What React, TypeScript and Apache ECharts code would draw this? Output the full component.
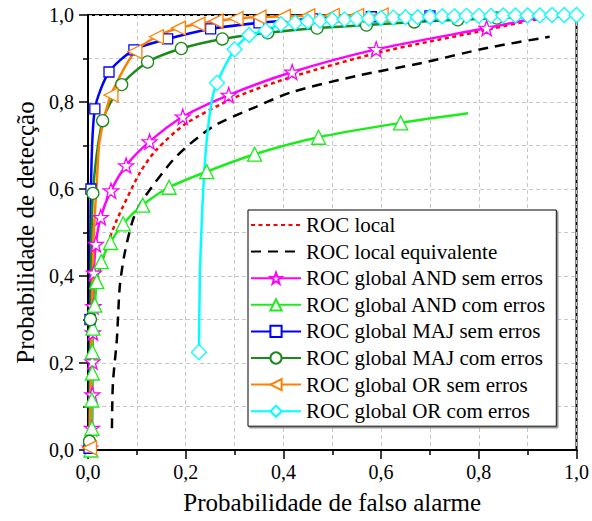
import React, { useEffect, useRef } from "react";
import * as echarts from "echarts";

// Legend names
const names = [
  "ROC local",
  "ROC local equivalente",
  "ROC global AND sem erros",
  "ROC global AND com erros",
  "ROC global MAJ sem erros",
  "ROC global MAJ com erros",
  "ROC global OR sem erros",
  "ROC global OR com erros",
];

// [Pfa, Pd] points
const rocLocal = [
  [0.006, 0.15], [0.008, 0.22], [0.011, 0.3], [0.015, 0.36], [0.024, 0.414], [0.041, 0.476],
  [0.059, 0.529], [0.106, 0.637], [0.14, 0.69], [0.2, 0.75], [0.3, 0.81], [0.418, 0.858],
  [0.6, 0.915], [0.8, 0.962], [0.92, 0.99], [1.0, 1.0],
];
const rocLocalEquiv = [
  [0.049, 0.05], [0.051, 0.154], [0.059, 0.253], [0.065, 0.375], [0.075, 0.452], [0.092, 0.529],
  [0.112, 0.575], [0.18, 0.674], [0.255, 0.743], [0.344, 0.789], [0.418, 0.823], [0.55, 0.86],
  [0.684, 0.89], [0.82, 0.925], [0.945, 0.95],
];
const andSem = [
  [0.004, 0.005], [0.008, 0.05], [0.009, 0.127], [0.009, 0.203], [0.01, 0.27], [0.011, 0.33],
  [0.012, 0.407], [0.016, 0.473], [0.026, 0.535], [0.047, 0.596], [0.078, 0.654], [0.126, 0.709],
  [0.194, 0.766], [0.288, 0.816], [0.418, 0.869], [0.59, 0.921], [0.816, 0.97],
];
const andSemTail = [[0.93, 0.995], [1.0, 1.0]];
const andCom = [
  [0.006, 0.0], [0.008, 0.05], [0.008, 0.115], [0.009, 0.177], [0.009, 0.226], [0.01, 0.28],
  [0.014, 0.333], [0.018, 0.387], [0.027, 0.433], [0.046, 0.477], [0.072, 0.52], [0.112, 0.563],
  [0.166, 0.604], [0.243, 0.64], [0.341, 0.68], [0.472, 0.719], [0.64, 0.752],
];
const andComTail = [[0.778, 0.774]];
const majSem = [
  [0.002, 0.004], [0.004, 0.3], [0.006, 0.6], [0.014, 0.784], [0.043, 0.869], [0.094, 0.92],
  [0.163, 0.945], [0.251, 0.968], [0.35, 0.982], [0.46, 0.991], [0.58, 0.996], [0.7, 0.998],
];
const majSemTail = [[1.0, 1.0]];
const majCom = [
  [0.003, 0.02], [0.005, 0.3], [0.01, 0.59], [0.03, 0.757], [0.069, 0.84], [0.122, 0.892],
  [0.191, 0.923], [0.275, 0.945], [0.368, 0.959], [0.469, 0.97], [0.57, 0.977], [0.668, 0.984],
  [0.757, 0.989], [0.837, 0.993],
];
const majComTail = [[1.0, 1.0]];
const orHead = [[0.008, 0.3], [0.012, 0.5], [0.018, 0.614], [0.024, 0.713]];
const orSem = [
  [0.003, 0.005], [0.047, 0.816], [0.096, 0.916], [0.14, 0.95], [0.185, 0.97], [0.225, 0.979],
  [0.262, 0.986], [0.303, 0.992], [0.35, 0.995], [0.4, 0.997], [0.45, 0.998], [0.5, 0.999],
  [0.55, 0.999], [0.6, 1.0],
];
const orSemTail = [[1.0, 1.0]];
const orComHead = [[0.229, 0.4], [0.232, 0.5], [0.236, 0.6], [0.242, 0.7], [0.253, 0.8]];
const orCom = [
  [0.227, 0.225], [0.264, 0.844], [0.3, 0.921], [0.33, 0.954], [0.364, 0.964], [0.395, 0.979],
  [0.424, 0.982], [0.45, 0.985], [0.475, 0.987], [0.5, 0.989], [0.525, 0.99], [0.55, 0.991],
  [0.575, 0.992], [0.6, 0.993], [0.625, 0.994], [0.65, 0.995], [0.675, 0.995], [0.7, 0.996],
  [0.725, 0.997], [0.75, 0.997], [0.775, 0.998], [0.8, 0.998], [0.825, 0.998], [0.85, 0.999],
  [0.875, 0.999], [0.9, 0.999], [0.925, 0.999], [0.95, 1.0], [0.975, 1.0], [1.0, 1.0],
];

const STAR =
  "path://M0,-10 L2.35,-3.24 L9.51,-3.09 L3.8,1.24 L5.88,8.09 L0,4 L-5.88,8.09 L-3.8,1.24 L-9.51,-3.09 L-2.35,-3.24 Z";

const FONT = "Liberation Serif";

function build(markers: number[][], head: number[][] = [], tail: number[][] = []) {
  const all: any[] = [];
  head.forEach((p) => all.push({ value: p, symbol: "none" }));
  markers.forEach((p) => all.push({ value: p }));
  tail.forEach((p) => all.push({ value: p, symbol: "none" }));
  all.sort((a, b) => a.value[1] - b.value[1] || a.value[0] - b.value[0]);
  return all;
}

export default function App() {
  const ref = useRef<HTMLDivElement>(null);
  useEffect(() => {
    const chart = echarts.init(ref.current!, null, { renderer: "svg" });
    const fmt = (v: number) => v.toFixed(1).replace(".", ",");
    const gridLine = { color: "#c8c8c8", type: [4, 3], width: 1 };
    const label = { formatter: fmt, color: "#000", fontFamily: FONT, fontSize: 20 };
    const axisBase = {
      type: "value",
      min: 0,
      max: 1,
      interval: 0.2,
      axisLine: { show: true, onZero: false, lineStyle: { color: "#000", width: 2 } },
      axisTick: { show: true, inside: false, length: 9, lineStyle: { color: "#000", width: 1.5 } },
      minorTick: { show: true, splitNumber: 2, length: 5, lineStyle: { color: "#000", width: 1.5 } },
      splitLine: { show: true, lineStyle: gridLine },
      minorSplitLine: { show: true, lineStyle: gridLine },
      nameLocation: "middle",
      nameTextStyle: { color: "#000", fontFamily: FONT, fontSize: 25 },
    };
    const line = (
      name: string,
      color: string,
      data: any[],
      symbol: string,
      size: number,
      extra: any = {}
    ) => ({
      name,
      type: "line",
      data,
      symbol,
      symbolSize: size,
      showAllSymbol: true,
      smooth: 0.25,
      lineStyle: { color, width: 2.5 },
      itemStyle: { color: "#fff", borderColor: color, borderWidth: 1.3 },
      ...extra,
    });
    chart.setOption({
      animation: false,
      textStyle: { fontFamily: FONT },
      grid: { left: 88, top: 15, width: 490, height: 435, show: true, borderColor: "#000", borderWidth: 2 },
      xAxis: { ...axisBase, name: "Probabilidade de falso alarme", nameGap: 40, axisLabel: { ...label, margin: 12 } },
      yAxis: { ...axisBase, name: "Probabilidade de detecção", nameGap: 49, axisLabel: { ...label, margin: 14 } },
      legend: {
        orient: "vertical",
        left: 248,
        top: 210,
        data: names,
        backgroundColor: "#fff",
        borderColor: "#000",
        borderWidth: 1,
        shadowColor: "#888",
        shadowOffsetX: 1.5,
        shadowOffsetY: 1.5,
        padding: [4.5, 10, 4.5, 2],
        itemGap: 5.6,
        itemWidth: 50,
        itemHeight: 14,
        selectedMode: false,
        textStyle: { color: "#000", fontFamily: FONT, fontSize: 21, lineHeight: 21 },
      },
      series: [
        {
          ...line(names[0], "#ff0000", rocLocal, "none", 0),
          lineStyle: { color: "#ff0000", width: 2.5, type: [4, 3.5] },
          itemStyle: { color: "rgba(0,0,0,0)", borderWidth: 0 },
        },
        {
          ...line(names[1], "#000", rocLocalEquiv, "none", 0),
          lineStyle: { color: "#000", width: 2.5, type: [10, 7] },
          itemStyle: { color: "rgba(0,0,0,0)", borderWidth: 0 },
        },
        line(names[2], "#ff00ff", build(andSem, [], andSemTail), STAR, 15),
        line(names[3], "#1aee1a", build(andCom, [], andComTail), "triangle", 14),
        line(names[4], "#0000ff", build(majSem, [], majSemTail), "rect", 10),
        line(names[5], "#1a8a1a", build(majCom, [], majComTail), "circle", 12),
        line(names[6], "#ff8000", build(orSem, orHead, orSemTail), "triangle", 14, { symbolRotate: 90 }),
        line(names[7], "#00ffff", build(orCom, orComHead, []), "diamond", 15),
      ],
    });
    return () => chart.dispose();
  }, []);
  return <div ref={ref} style={{ position: "absolute", left: 0, top: 0, width: 592, height: 521 }} />;
}
